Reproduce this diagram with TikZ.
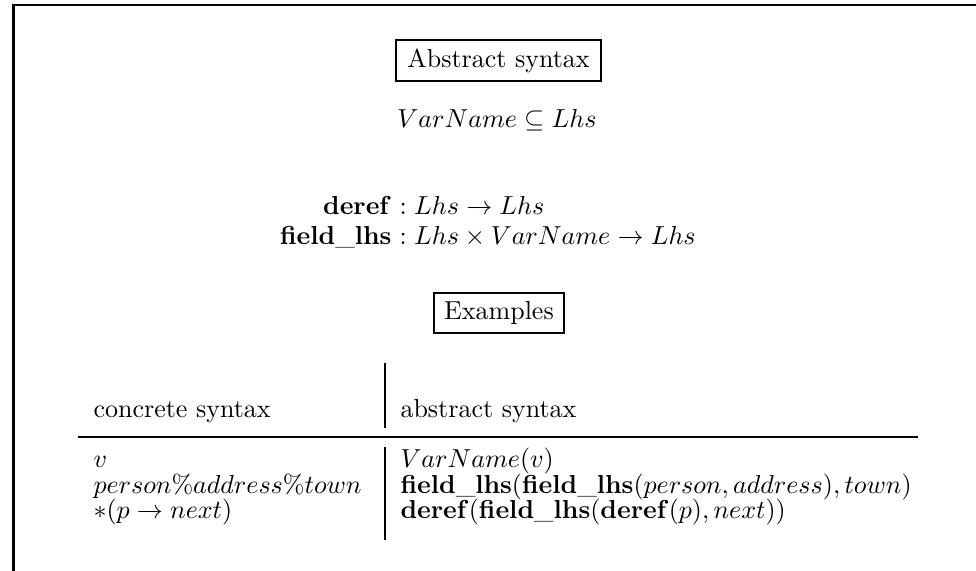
\documentclass[tikz,border=0pt]{standalone}
\usepackage{amssymb}
\begin{document}
\begin{tikzpicture}[x=0.3846pt,y=-0.3846pt,
  titlebox/.style={draw,line width=0.65pt,inner sep=0pt},
  txt/.style={inner sep=0pt,anchor=base west},
  ctr/.style={inner sep=0pt,anchor=base},
  rgt/.style={inner sep=0pt,anchor=base east},
  framerule/.style={line width=1.1pt},
  tabrule/.style={line width=0.95pt}]
\useasboundingbox (0,0) rectangle (976,571);
% frame
\coordinate (fTL) at (13.5,5);
\coordinate (fBL) at (13.5,571);
\coordinate (fTR) at (976,5);
\draw[framerule] (fBL) -- (fTL) -- (fTR);
% abstract syntax
\node[titlebox,minimum width=79pt,minimum height=15.8pt] (abs) at (498.5,60.5) {Abstract syntax};
\node[ctr] (sub) at (497,128) {$VarName \subseteq Lhs$};
\node[rgt] (dl) at (392,215) {$\mathbf{deref}$};
\node[txt] (dr) at (392,215) {${}: Lhs \to Lhs$};
\node[rgt] (fl) at (392,245) {$\mathbf{field\_lhs}$};
\node[txt] (fr) at (392,245) {${}: Lhs \times VarName \to Lhs$};
% examples
\node[titlebox,minimum width=50pt,minimum height=15.4pt] (ex) at (499,313) {Examples};
% table lines
\coordinate (vt1) at (385,363);
\coordinate (vt2) at (385,428);
\coordinate (hl) at (78,437);
\coordinate (hr) at (918,437);
\coordinate (vb1) at (385,447);
\coordinate (vb2) at (385,540);
\draw[tabrule] (vt1) -- (vt2);
\draw[tabrule] (hl) -- (hr);
\draw[tabrule] (vb1) -- (vb2);
% table text
\node[txt] (h1) at (93,418) {concrete syntax};
\node[txt] (h2) at (400,418) {abstract syntax};
\node[txt] (r1a) at (93,468) {$v$};
\node[txt] (r1b) at (400,468) {$VarName(v)$};
\node[txt] (r2a) at (93,494) {$person\%address\%town$};
\node[txt] (r2b) at (400,494) {$\mathbf{field\_lhs}(\mathbf{field\_lhs}(person,address),town)$};
\node[txt] (r3a) at (93,519) {$*(p \to next)$};
\node[txt] (r3b) at (400,519) {$\mathbf{deref}(\mathbf{field\_lhs}(\mathbf{deref}(p),next))$};
\end{tikzpicture}
\end{document}
